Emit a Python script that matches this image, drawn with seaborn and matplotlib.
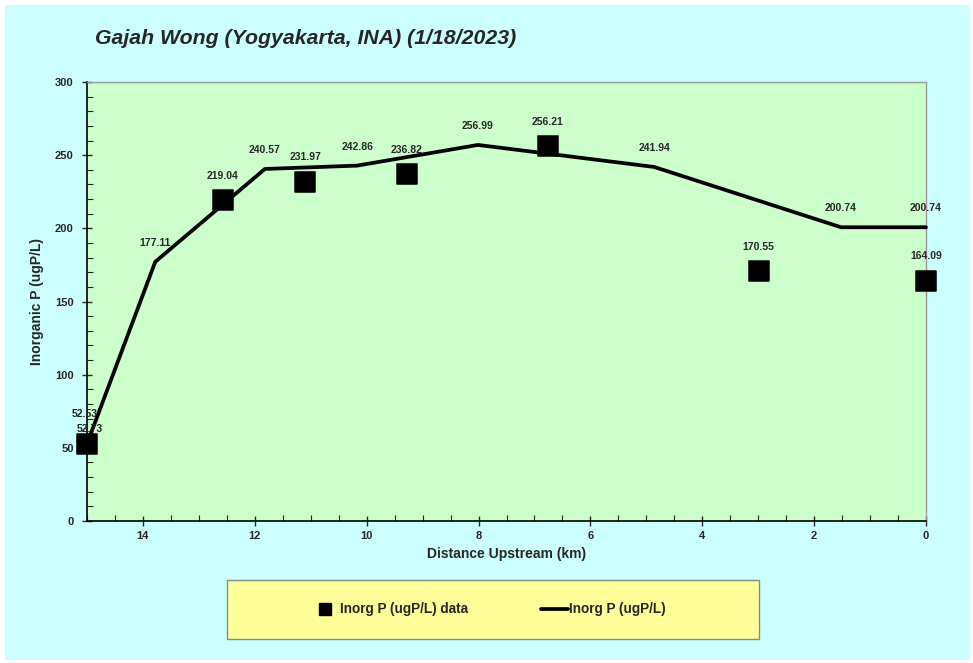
import numpy as np
import pandas as pd
import matplotlib
matplotlib.use("Agg")
import matplotlib.pyplot as plt
import seaborn as sns
from matplotlib.patches import Rectangle
from matplotlib.lines import Line2D
from matplotlib.ticker import MultipleLocator

# model line
model_km = [15.0, 13.78, 11.82, 10.17, 8.01, 4.86, 1.52, 0.0]
model_p = [52.73, 177.11, 240.57, 242.86, 256.99, 241.94, 200.74, 200.74]

# observed data
data_km = [15.0, 12.57, 11.1, 9.28, 6.76, 2.99, 0.0]
data_p = [52.53, 219.04, 231.97, 236.82, 256.21, 170.55, 164.09]

title = "Gajah Wong (Yogyakarta, INA) (1/18/2023)"

sns.set_style("white")
plt.rcParams["font.family"] = ["Liberation Sans", "DejaVu Sans"]

fig = plt.figure(figsize=(9.73, 6.63), dpi=100)
fig.patch.set_facecolor("white")
W, H = 973, 663
fig.patches.append(Rectangle((5 / W, 3 / H), 965 / W, 655 / H, transform=fig.transFigure,
                             facecolor="#CCFFFF", edgecolor="none", zorder=-10))

ax = fig.add_axes([87 / W, 1 - 521 / H, (926 - 87) / W, (521 - 82) / H])
ax.set_facecolor("#CCFFCC")

df_model = pd.DataFrame({"km": model_km, "p": model_p})
df_data = pd.DataFrame({"km": data_km, "p": data_p})

sns.lineplot(data=df_model, x="km", y="p", ax=ax, color="black", linewidth=2.7,
             sort=False, zorder=3, clip_on=False)
sns.scatterplot(data=df_data, x="km", y="p", ax=ax, color="black", marker="s", s=190,
                edgecolor="black", zorder=4, clip_on=False)

# value labels (the two at 15 km sit very close, as in the original)
for i, (x, y) in enumerate(zip(model_km, model_p)):
    dx, dy = (2, 7) if i == 0 else (0, 10)
    ax.annotate(f"{y:.2f}", (x, y), xytext=(dx, dy), textcoords="offset points",
                ha="center", va="bottom", fontsize=7.5, fontweight="bold", zorder=5)
for i, (x, y) in enumerate(zip(data_km, data_p)):
    dx, dy = (-2, 18) if i == 0 else (0, 14)
    ax.annotate(f"{y:.2f}", (x, y), xytext=(dx, dy), textcoords="offset points",
                ha="center", va="bottom", fontsize=7.5, fontweight="bold", zorder=5)

ax.set_xlim(15, 0)
ax.set_ylim(0, 300)
ax.xaxis.set_minor_locator(MultipleLocator(0.5))
ax.yaxis.set_major_locator(MultipleLocator(50))
ax.yaxis.set_minor_locator(MultipleLocator(10))
ax.set_xticks([14, 12, 10, 8, 6, 4, 2, 0])
ax.tick_params(which="major", direction="inout", length=7, width=1, labelsize=8)
ax.tick_params(axis="x", which="major", pad=4)
ax.tick_params(axis="y", which="major", pad=6)
ax.tick_params(which="minor", direction="in", length=4, width=0.8)
ax.tick_params(axis="both", which="both", bottom=True, left=True)
for lab in ax.get_xticklabels() + ax.get_yticklabels():
    lab.set_fontweight("bold")

for s in ["left", "bottom"]:
    ax.spines[s].set_color("black")
    ax.spines[s].set_linewidth(1.2)
for s in ["top", "right"]:
    ax.spines[s].set_color("#999999")
    ax.spines[s].set_linewidth(1)

ax.set_xlabel("Distance Upstream (km)", fontsize=10, fontweight="bold", labelpad=4)
ax.set_ylabel("Inorganic P (ugP/L)", fontsize=10, fontweight="bold", labelpad=8)

fig.text(95 / W, 1 - 38 / H, title, fontsize=15.3, fontweight="bold", fontstyle="italic",
         ha="left", va="center")

# legend box
fig.patches.append(Rectangle((227 / W, 1 - 639 / H), (759 - 227) / W, (639 - 580) / H,
                             transform=fig.transFigure, facecolor="#FFFF99",
                             edgecolor="#888888", linewidth=1, zorder=1))
ly = 1 - 609 / H
fig.lines.append(Line2D([325 / W], [ly], marker="s", markersize=8, color="black",
                        linestyle="none", transform=fig.transFigure, zorder=2))
fig.text(340 / W, ly, "Inorg P (ugP/L) data", fontsize=9.8, fontweight="bold",
         ha="left", va="center", zorder=2)
fig.lines.append(Line2D([541 / W, 568 / W], [ly, ly], color="black", linewidth=2.7,
                        transform=fig.transFigure, zorder=2))
fig.text(569 / W, ly, "Inorg P (ugP/L)", fontsize=9.8, fontweight="bold",
         ha="left", va="center", zorder=2)

fig.savefig("out.png", dpi=100, facecolor=fig.get_facecolor())
